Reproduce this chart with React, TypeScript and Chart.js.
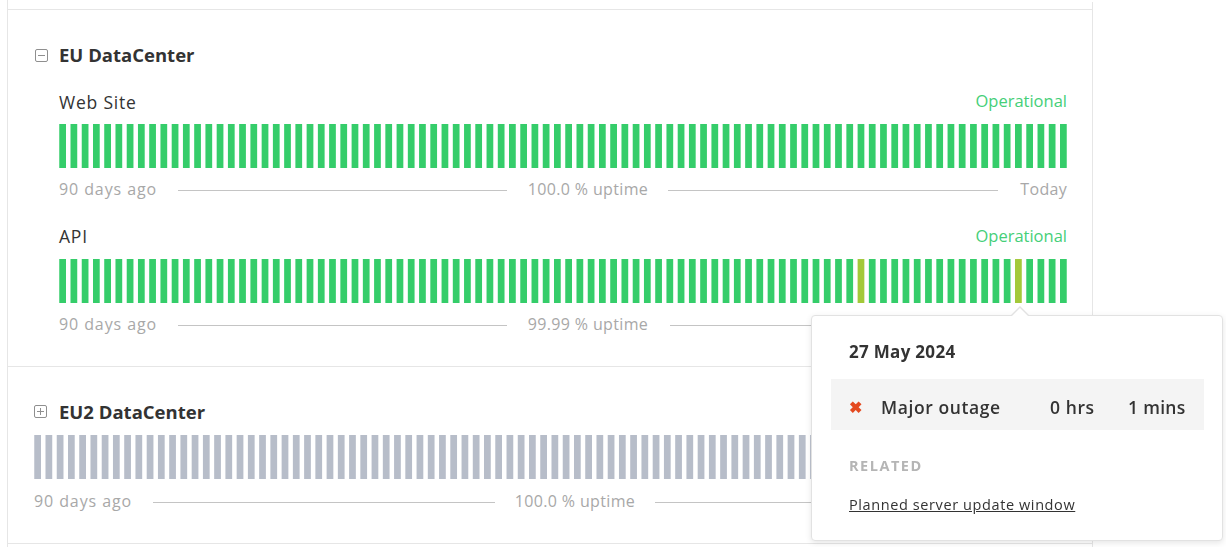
import React, { useEffect, useRef } from "react";
import { Chart, registerables } from "chart.js";

Chart.register(...registerables);

// ---- data ----
const DAY_COUNT_LABEL = "90 days ago";
const TODAY_LABEL = "Today";

// daily uptime (%) for the last 90 days, oldest first
const webSiteUptime = [
  100, 100, 100, 100, 100, 100, 100, 100, 100, 100,
  100, 100, 100, 100, 100, 100, 100, 100, 100, 100,
  100, 100, 100, 100, 100, 100, 100, 100, 100, 100,
  100, 100, 100, 100, 100, 100, 100, 100, 100, 100,
  100, 100, 100, 100, 100, 100, 100, 100, 100, 100,
  100, 100, 100, 100, 100, 100, 100, 100, 100, 100,
  100, 100, 100, 100, 100, 100, 100, 100, 100, 100,
  100, 100, 100, 100, 100, 100, 100, 100, 100, 100,
  100, 100, 100, 100, 100, 100, 100, 100, 100, 100,
];
const apiUptime = [
  100, 100, 100, 100, 100, 100, 100, 100, 100, 100,
  100, 100, 100, 100, 100, 100, 100, 100, 100, 100,
  100, 100, 100, 100, 100, 100, 100, 100, 100, 100,
  100, 100, 100, 100, 100, 100, 100, 100, 100, 100,
  100, 100, 100, 100, 100, 100, 100, 100, 100, 100,
  100, 100, 100, 100, 100, 100, 100, 100, 100, 100,
  100, 100, 100, 100, 100, 100, 100, 100, 100, 100,
  100, 99.93, 100, 100, 100, 100, 100, 100, 100, 100,
  100, 100, 100, 100, 100, 99.93, 100, 100, 100, 100,
];
const eu2Uptime = [
  100, 100, 100, 100, 100, 100, 100, 100, 100, 100,
  100, 100, 100, 100, 100, 100, 100, 100, 100, 100,
  100, 100, 100, 100, 100, 100, 100, 100, 100, 100,
  100, 100, 100, 100, 100, 100, 100, 100, 100, 100,
  100, 100, 100, 100, 100, 100, 100, 100, 100, 100,
  100, 100, 100, 100, 100, 100, 100, 100, 100, 100,
  100, 100, 100, 100, 100, 100, 100, 100, 100, 100,
  100, 100, 100, 100, 100, 100, 100, 100, 100, 100,
  100, 100, 100, 100, 100, 100, 100, 100, 100, 100,
];
const webSiteTotal = "100.0 % uptime";
const apiTotal = "99.99 % uptime";
const eu2Total = "100.0 % uptime";

const GREEN = "#35cd6a";
const PARTIAL = "#a3c939";
const GREY = "#b7bdc9";
const FONT = "'Open Sans', Lato, sans-serif";

function BarRow({ values, base, left, top }: { values: number[]; base: string; left: number; top: number }) {
  const ref = useRef<HTMLCanvasElement | null>(null);
  useEffect(() => {
    if (!ref.current) return;
    const chart = new Chart(ref.current, {
      type: "bar",
      data: {
        labels: values.map((_, i) => `Day ${i + 1}`),
        datasets: [
          {
            data: values,
            backgroundColor: values.map((v) => (v < 100 ? PARTIAL : base)),
            borderWidth: 0,
            barPercentage: 0.6,
            categoryPercentage: 1,
          },
        ],
      },
      options: {
        animation: false,
        responsive: false,
        maintainAspectRatio: false,
        layout: { padding: 0 },
        plugins: { legend: { display: false }, tooltip: { enabled: false } },
        scales: {
          x: { display: false },
          y: { display: false, min: 0, max: 100 },
        },
      },
    });
    return () => chart.destroy();
  }, []);
  return (
    <canvas
      ref={ref}
      width={1012}
      height={44}
      style={{ position: "absolute", left, top, width: 1012, height: 44 }}
    />
  );
}

const abs = (s: React.CSSProperties): React.CSSProperties => ({ position: "absolute", ...s });

function Line({ x1, x2, y }: { x1: number; x2: number; y: number }) {
  return <div style={abs({ left: x1, top: y, width: x2 - x1, height: 1, background: "#c4c4c4" })} />;
}

function Footer({ left, y, total, centerX, l1, l2, showToday }: any) {
  const txt: React.CSSProperties = { fontFamily: FONT, fontSize: 16, color: "#a8a8a8", whiteSpace: "nowrap", lineHeight: "20px" };
  return (
    <>
      <div style={abs({ ...txt, left, top: y - 10, letterSpacing: 0.9 })}>{DAY_COUNT_LABEL}</div>
      <Line x1={l1[0]} x2={l1[1]} y={y + 1} />
      <div style={abs({ ...txt, left: centerX - 100, width: 200, textAlign: "center", top: y - 10, letterSpacing: 0.35 })}>{total}</div>
      <Line x1={l2[0]} x2={l2[1]} y={y + 1} />
      {showToday && <div style={abs({ ...txt, right: 1226 - 1067, top: y - 10, letterSpacing: 0.3 })}>{TODAY_LABEL}</div>}
    </>
  );
}

function SquareIcon({ left, top, plus }: { left: number; top: number; plus?: boolean }) {
  return (
    <div style={abs({ left, top, width: 11, height: 11, border: "1px solid #8f8f8f", borderRadius: 2, boxSizing: "content-box" })}>
      <div style={abs({ left: 2, top: 5, width: 7, height: 1, background: "#8f8f8f" })} />
      {plus && <div style={abs({ left: 5, top: 2, width: 1, height: 7, background: "#8f8f8f" })} />}
    </div>
  );
}

export default function App() {
  const title: React.CSSProperties = { fontFamily: FONT, fontSize: 18.5, fontWeight: 700, color: "#333", whiteSpace: "nowrap", lineHeight: "22px" };
  const label: React.CSSProperties = { fontFamily: FONT, fontSize: 17.5, color: "#333", whiteSpace: "nowrap", lineHeight: "22px", letterSpacing: 0.8 };
  const op: React.CSSProperties = { fontFamily: FONT, fontSize: 16.5, color: "#45cf78", whiteSpace: "nowrap", lineHeight: "22px" };
  const row: React.CSSProperties = { fontFamily: FONT, fontSize: 17.5, fontWeight: 600, color: "#333", top: 395, lineHeight: "24px", whiteSpace: "nowrap", letterSpacing: 0.6 };
  return (
    <div style={{ position: "absolute", left: 0, top: 0, width: 1226, height: 547, overflow: "hidden", background: "#fff" }}>
      {/* card borders */}
      <div style={abs({ left: 7, top: 0, width: 1, height: 547, background: "#e6e6e6" })} />
      <div style={abs({ left: 1092, top: 2, width: 1, height: 545, background: "#e6e6e6" })} />
      <div style={abs({ left: 7, top: 9, width: 1086, height: 1, background: "#e6e6e6" })} />
      <div style={abs({ left: 7, top: 366, width: 1086, height: 1, background: "#e6e6e6" })} />
      <div style={abs({ left: 7, top: 543, width: 1086, height: 1, background: "#e6e6e6" })} />

      {/* EU DataCenter */}
      <SquareIcon left={35} top={49} />
      <div style={abs({ ...title, left: 59, top: 44 })}>EU DataCenter</div>

      <div style={abs({ ...label, left: 59, top: 91 })}>Web Site</div>
      <div style={abs({ ...op, right: 1226 - 1067, top: 90 })}>Operational</div>
      <BarRow values={webSiteUptime} base={GREEN} left={57} top={124} />
      <Footer left={59} y={189} total={webSiteTotal} centerX={588} l1={[178, 507]} l2={[668, 998]} showToday />

      <div style={abs({ ...label, left: 59, top: 225 })}>API</div>
      <div style={abs({ ...op, right: 1226 - 1067, top: 225 })}>Operational</div>
      <BarRow values={apiUptime} base={GREEN} left={57} top={259} />
      <Footer left={59} y={324} total={apiTotal} centerX={588} l1={[178, 507]} l2={[670, 998]} />

      {/* EU2 DataCenter */}
      <SquareIcon left={34} top={405} plus />
      <div style={abs({ ...title, left: 59, top: 401 })}>EU2 DataCenter</div>
      <BarRow values={eu2Uptime} base={GREY} left={32} top={435} />
      <Footer left={34} y={501} total={eu2Total} centerX={575} l1={[153, 495]} l2={[655, 998]} />

      {/* tooltip */}
      <div style={abs({ left: 811, top: 315, width: 412, height: 226, background: "#fff", border: "1px solid #e2e2e2", borderRadius: 4, boxShadow: "0 2px 6px rgba(0,0,0,0.10)", boxSizing: "border-box" })} />
      <div style={abs({ left: 1010, top: 306, width: 0, height: 0, borderLeft: "10px solid transparent", borderRight: "10px solid transparent", borderBottom: "10px solid #e2e2e2" })} />
      <div style={abs({ left: 1011, top: 308, width: 0, height: 0, borderLeft: "9px solid transparent", borderRight: "9px solid transparent", borderBottom: "9px solid #fff" })} />
      <div style={abs({ fontFamily: FONT, fontSize: 17, fontWeight: 700, color: "#333", left: 849, top: 341, lineHeight: "22px", whiteSpace: "nowrap", letterSpacing: 0.3 })}>27 May 2024</div>
      <div style={abs({ left: 831, top: 379, width: 373, height: 51, background: "#f4f4f4" })} />
      <div style={abs({ fontFamily: FONT, fontSize: 16, fontWeight: 900, color: "#e4491f", left: 849, top: 396, lineHeight: "22px" })}>✖</div>
      <div style={abs({ ...row, left: 881 })}>Major outage</div>
      <div style={abs({ ...row, left: 1050 })}>0 hrs</div>
      <div style={abs({ ...row, left: 1128, letterSpacing: 0.3 })}>1 mins</div>
      <div style={abs({ fontFamily: FONT, fontSize: 14.5, fontWeight: 700, color: "#b5b5b5", left: 849, top: 456, lineHeight: "20px", whiteSpace: "nowrap", letterSpacing: 1.5 })}>RELATED</div>
      <div style={abs({ fontFamily: FONT, fontSize: 14.5, color: "#333", left: 849, top: 495, lineHeight: "20px", whiteSpace: "nowrap", textDecoration: "underline", letterSpacing: 0.6 })}>Planned server update window</div>
    </div>
  );
}
